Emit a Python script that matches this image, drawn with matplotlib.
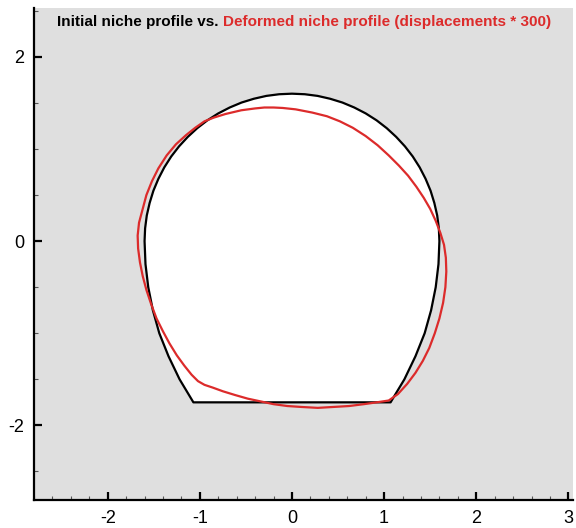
import numpy as np
import matplotlib.pyplot as plt
from matplotlib.ticker import MultipleLocator

plt.rcParams['font.family'] = ['Liberation Sans', 'DejaVu Sans']
plt.rcParams['axes.unicode_minus'] = False

# Initial niche profile, counter-clockwise from right bottom corner
init_x = [1.07, 1.22, 1.34, 1.44, 1.51, 1.56, 1.59, 1.60,
          1.594, 1.576, 1.545, 1.504, 1.450, 1.386, 1.311, 1.226, 1.131, 1.028, 0.918,
          0.800, 0.676, 0.547, 0.414, 0.278, 0.139, 0.0,
          -0.139, -0.278, -0.414, -0.547, -0.676, -0.800, -0.918, -1.028, -1.131,
          -1.226, -1.311, -1.386, -1.450, -1.504, -1.545, -1.576, -1.594, -1.60,
          -1.59, -1.56, -1.51, -1.44, -1.34, -1.22, -1.07, 1.07]
init_y = [-1.75, -1.50, -1.25, -1.00, -0.75, -0.50, -0.25, 0.00,
          0.139, 0.278, 0.414, 0.547, 0.676, 0.800, 0.918, 1.028, 1.131, 1.226, 1.311,
          1.386, 1.450, 1.504, 1.545, 1.576, 1.594, 1.60,
          1.594, 1.576, 1.545, 1.504, 1.450, 1.386, 1.311, 1.226, 1.131,
          1.028, 0.918, 0.800, 0.676, 0.547, 0.414, 0.278, 0.139, 0.00,
          -0.25, -0.50, -0.75, -1.00, -1.25, -1.50, -1.75, -1.75]

# Deformed niche profile (displacements * 300)
def_x = [0.04, -0.10, -0.20, -0.30, -0.40, -0.55, -0.72, -0.85, -0.95, -1.05, -1.15,
         -1.26, -1.36, -1.45, -1.52, -1.58, -1.62, -1.66, -1.675, -1.67, -1.65, -1.62,
         -1.58, -1.53, -1.47, -1.40, -1.33, -1.25, -1.17, -1.09, -1.02, -0.95, -0.86,
         -0.75, -0.62, -0.48, -0.34, -0.20, -0.05, 0.10, 0.28, 0.45, 0.62, 0.78, 0.92,
         1.05, 1.15, 1.25, 1.34, 1.42, 1.49, 1.55, 1.60, 1.64, 1.665, 1.675, 1.67,
         1.65, 1.61, 1.56, 1.50, 1.43, 1.35, 1.26, 1.16, 1.05, 0.93, 0.80, 0.66, 0.52,
         0.38, 0.22, 0.04]
def_y = [1.43, 1.445, 1.45, 1.45, 1.44, 1.42, 1.38, 1.34, 1.30, 1.23, 1.15,
         1.05, 0.93, 0.79, 0.65, 0.50, 0.35, 0.20, 0.06, -0.08, -0.23, -0.38,
         -0.53, -0.68, -0.84, -0.98, -1.11, -1.24, -1.35, -1.45, -1.52, -1.56, -1.59,
         -1.63, -1.67, -1.71, -1.74, -1.77, -1.79, -1.80, -1.81, -1.80, -1.79, -1.77, -1.75,
         -1.73, -1.66, -1.55, -1.43, -1.30, -1.16, -1.00, -0.84, -0.67, -0.50, -0.33, -0.18,
         -0.04, 0.09, 0.22, 0.35, 0.47, 0.59, 0.71, 0.82, 0.93, 1.04, 1.14, 1.23, 1.30,
         1.355, 1.395, 1.43]

xmin, xmax = -2.8, 3.05
ymin, ymax = -2.81, 2.53

red = '#dc2b2b'

fig = plt.figure(figsize=(5.76, 5.28), dpi=100)
ax = fig.add_axes([34 / 576, 28 / 528, 539 / 576, 492 / 528])
ax.set_facecolor('#dfdfdf')

ax.fill(init_x, init_y, facecolor='white', edgecolor='black', lw=1.6,
        joinstyle='round', zorder=1)
ax.fill(def_x, def_y, facecolor='none', edgecolor=red, lw=1.6,
        joinstyle='round', zorder=3)

ax.set_xlim(xmin, xmax)
ax.set_ylim(ymin, ymax)

for s in ['top', 'right']:
    ax.spines[s].set_visible(False)
for s in ['left', 'bottom']:
    ax.spines[s].set_linewidth(1.6)

ax.xaxis.set_major_locator(MultipleLocator(1))
ax.xaxis.set_minor_locator(MultipleLocator(0.2))
ax.yaxis.set_major_locator(MultipleLocator(2))
ax.yaxis.set_minor_locator(MultipleLocator(0.5))
ax.tick_params(which='major', direction='in', length=6, width=1.6, labelsize=13, pad=7)
ax.tick_params(which='minor', direction='in', length=3, width=0.8, color='#555555')
ax.tick_params(top=False, right=False)

t1 = ax.text(0.043, 0.972, 'Initial niche profile vs. ', transform=ax.transAxes,
             fontsize=11, fontweight='bold', color='black', va='center', ha='left')
ax.annotate('Deformed niche profile (displacements * 300)', xy=(1, 0), xycoords=t1,
            va='bottom', ha='left', fontsize=11, fontweight='bold', color=red)

fig.savefig('out.png', dpi=100)
